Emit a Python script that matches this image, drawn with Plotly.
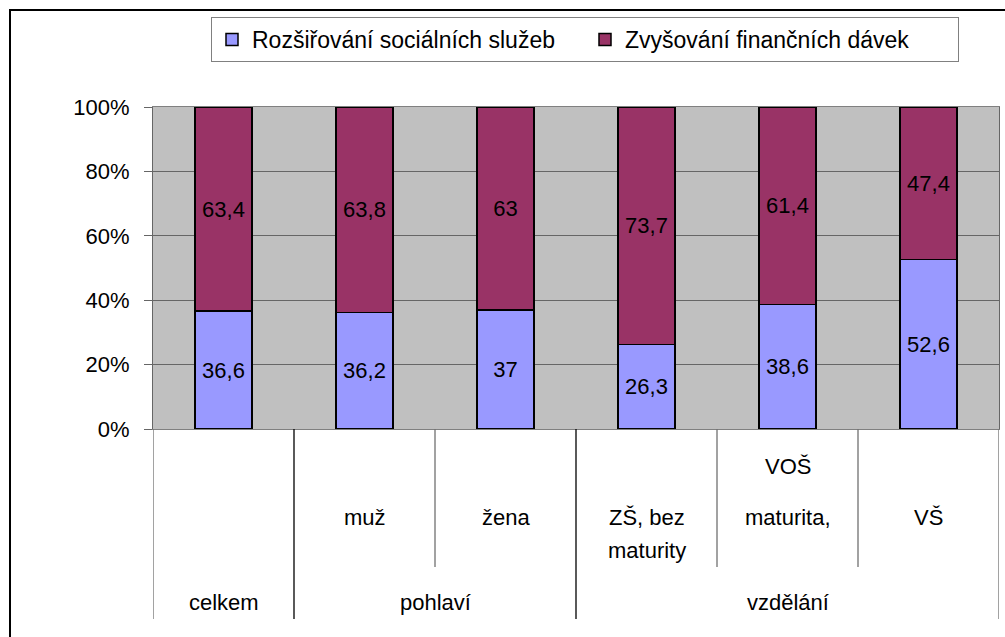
import plotly.graph_objects as go

# ---- data ----
categories = ["celkem", "muž", "žena", "ZŠ, bez maturity", "maturita, VOŠ", "VŠ"]
sub_label_lines = [[], ["muž"], ["žena"], ["ZŠ, bez", "maturity"], ["VOŠ", "maturita,"], ["VŠ"]]
groups = ["celkem", "pohlaví", "vzdělání"]
group_members = [[0], [1, 2], [3, 4, 5]]
series_names = ["Rozšiřování sociálních služeb", "Zvyšování finančních dávek"]
rozsirovani = [36.6, 36.2, 37, 26.3, 38.6, 52.6]
zvysovani = [63.4, 63.8, 63, 73.7, 61.4, 47.4]
y_ticks = [0, 20, 40, 60, 80, 100]

# ---- layout geometry (pixels) ----
W, H = 1005, 637
PL, PR, PT, PB = 153, 999, 107, 429
pw, ph = PR - PL, PB - PT


def py(p):  # pixel y -> paper y
    return (PB - p) / ph


def px(p):  # pixel x -> paper x
    return (p - PL) / pw


FONT = "Liberation Sans, Arial, sans-serif"
FS = 22
colors = ["#9999FF", "#993366"]


def fmt(v):
    return ("%g" % v).replace(".", ",")


x = list(range(len(categories)))
fig = go.Figure()
for name, vals, col in zip(series_names, [rozsirovani, zvysovani], colors):
    fig.add_trace(go.Bar(
        x=x, y=vals, name=name, width=0.404,
        marker=dict(color=col, line=dict(color="black", width=1.5)),
        text=[fmt(v) for v in vals], textposition="inside",
        insidetextanchor="middle", constraintext="none",
        textfont=dict(family=FONT, size=FS, color="black"),
        hoverinfo="skip",
    ))

shapes = []
# outer chart border (extends beyond the picture right/bottom)
shapes.append(dict(type="rect", xref="paper", yref="paper",
                   x0=px(10), x1=px(W + 20), y0=py(H + 20), y1=py(10),
                   line=dict(color="black", width=2), layer="below"))
# category dividers
n = len(categories)
group_bounds = set()
for mem in group_members:
    group_bounds.add(mem[0] - 0.5)
    group_bounds.add(mem[-1] + 0.5)
for i in range(n + 1):
    b = i - 0.5
    full = b in group_bounds
    inner = 0 < i < n
    shapes.append(dict(type="line", xref="x", yref="paper",
                       x0=b, x1=b, y0=0, y1=py(619 if full else 567),
                       line=dict(color="black" if (full and inner) else "#707070", width=1.3)))

annotations = []
line_y_px = {1: [517], 2: [517, 550]}
for i, lines in enumerate(sub_label_lines):
    if not lines:
        continue
    ys = line_y_px[len(lines)]
    if lines[0] == "VOŠ":
        ys = [467, 517]
    for t, yp in zip(lines, ys):
        annotations.append(dict(x=i, xref="x", y=py(yp), yref="paper", text=t,
                                showarrow=False, xanchor="center", yanchor="middle",
                                font=dict(family=FONT, size=FS, color="black")))
for g, mem in zip(groups, group_members):
    cx = (mem[0] + mem[-1]) / 2
    annotations.append(dict(x=cx, xref="x", y=py(602), yref="paper", text=g,
                            showarrow=False, xanchor="center", yanchor="middle",
                            font=dict(family=FONT, size=FS, color="black")))

fig.update_layout(
    width=W, height=H,
    margin=dict(l=PL, r=W - PR, t=PT, b=H - PB, autoexpand=False),
    paper_bgcolor="white", plot_bgcolor="#C0C0C0",
    barmode="stack", bargap=0.6,
    font=dict(family=FONT, size=FS, color="black"),
    showlegend=True,
    legend=dict(orientation="h", x=px(211), y=py(17), xanchor="left", yanchor="top",
                bordercolor="#808080", borderwidth=1, bgcolor="white",
                font=dict(family=FONT, size=23, color="black"),
                traceorder="normal", itemwidth=30, tracegroupgap=0,
                entrywidth=328, entrywidthmode="pixels"),
    shapes=shapes, annotations=annotations,
    xaxis=dict(range=[-0.5, n - 0.5], showticklabels=False, showgrid=False,
               zeroline=False, showline=True, linecolor="#808080", linewidth=1,
               mirror=True, ticks="", fixedrange=True),
    yaxis=dict(range=[0, 100], tickvals=y_ticks, ticktext=[f"{v}%" for v in y_ticks],
               showgrid=True, gridcolor="#666666", gridwidth=1,
               zeroline=False, showline=True, linecolor="#666666", linewidth=1, mirror=True,
               ticks="outside", ticklen=8, tickcolor="#666666", ticklabelstandoff=10,
               tickfont=dict(family=FONT, size=FS, color="black"), fixedrange=True),
)

fig.write_html("out.html", config={"displayModeBar": False, "staticPlot": True},
               post_script="document.body.style.margin='0px';")
